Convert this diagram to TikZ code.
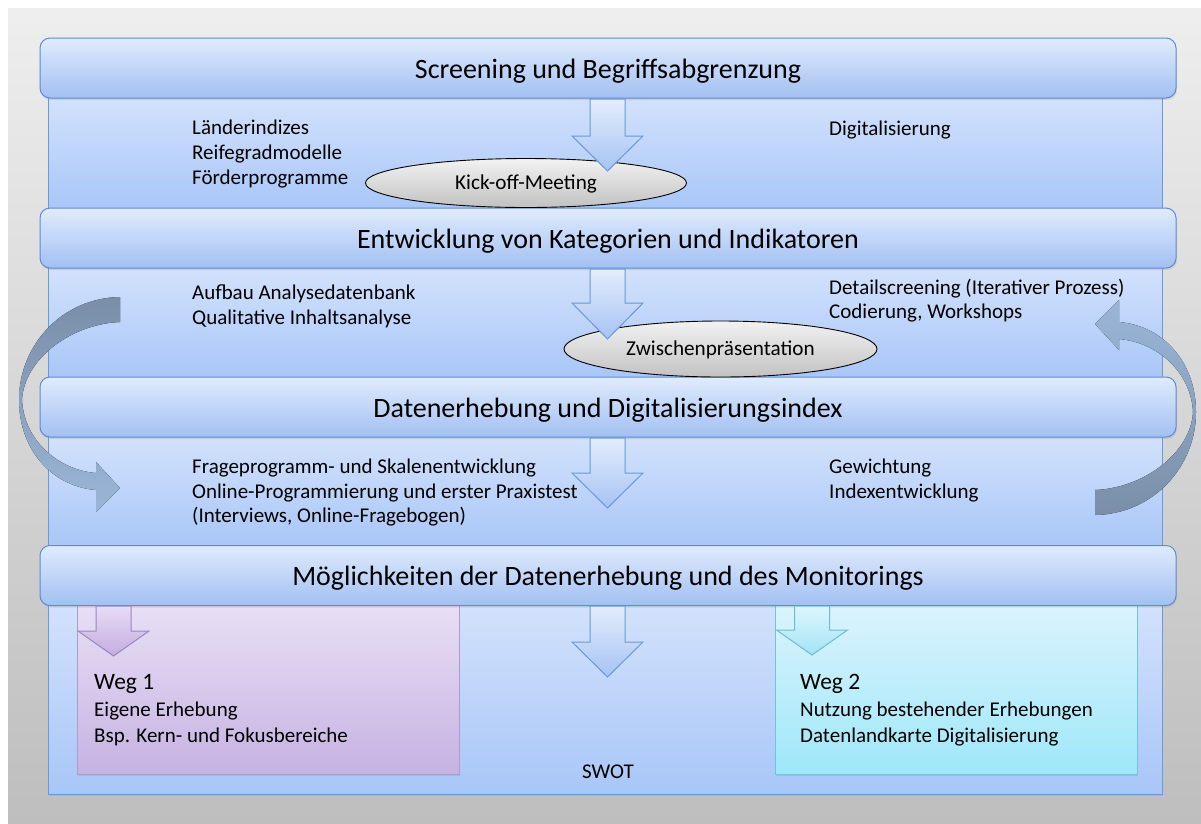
\documentclass[tikz,border=0pt]{standalone}
\usepackage{fontspec}
\setmainfont{Carlito}
\usetikzlibrary{shapes.geometric,shadows}
\definecolor{bgtop}{HTML}{EEEEEE}
\definecolor{bgbot}{HTML}{BEBEBE}
\definecolor{bartop}{HTML}{E0EBFD}
\definecolor{barbot}{HTML}{A2C0F2}
\definecolor{barline}{HTML}{5B8CD4}
\definecolor{paneltop}{HTML}{D3E2FC}
\definecolor{panelbot}{HTML}{A8C6F8}
\definecolor{panelline}{HTML}{6B9AD8}
\definecolor{arrtop}{HTML}{E3EDFC}
\definecolor{arrbot}{HTML}{A6C3F3}
\definecolor{arrline}{HTML}{6A99D5}
\definecolor{elltop}{HTML}{F2F2F2}
\definecolor{ellbot}{HTML}{C2C2C2}
\definecolor{cdark}{HTML}{7A8EA8}
\definecolor{clight}{HTML}{9AB6D8}
\definecolor{wAtop}{HTML}{E8E0F5}
\definecolor{wAbot}{HTML}{C6B2E2}
\definecolor{wAline}{HTML}{AD9CCB}
\definecolor{wAatop}{HTML}{E8DCF6}
\definecolor{wAabot}{HTML}{C4ACDF}
\definecolor{wAaline}{HTML}{9A86C2}
\definecolor{wBtop}{HTML}{DCF4FD}
\definecolor{wBbot}{HTML}{9EE7F9}
\definecolor{wBline}{HTML}{72C2DA}
\definecolor{wBatop}{HTML}{DEF6FD}
\definecolor{wBabot}{HTML}{A2E4F6}
\definecolor{wBaline}{HTML}{6CBCD4}
% #1 style, #2 centre x, #3 top y, #4 head y, #5 tip y
\newcommand\mydnarrow[5]{%
  \draw[#1] (#2-17.5,#3) -- (#2+17.5,#3) -- (#2+17.5,#4) -- (#2+35.5,#4)
    -- (#2,#5) -- (#2-35.5,#4) -- (#2-17.5,#4) -- cycle;}
\begin{document}
\begin{tikzpicture}[x=1pt,y=-1pt,
  shd/.style={drop shadow={opacity=0.2,shadow xshift=1pt,shadow yshift=-2pt}},
  bar/.style={shd,draw=barline,line width=1pt,rounded corners=10pt,
    top color=bartop,bottom color=barbot,minimum width=1136pt,minimum height=60pt,
    inner sep=0pt,text height=20pt,text depth=0pt,font=\fontsize{28}{32}\selectfont},
  panel/.style={shd,draw=panelline,line width=1pt,top color=paneltop,bottom color=panelbot},
  dnarr/.style={draw=arrline,line width=1pt,top color=arrtop,bottom color=arrbot,line join=miter},
  ell/.style={ellipse,draw=black,line width=0.9pt,top color=elltop,bottom color=ellbot,
    inner sep=0pt,text height=14pt,text depth=2pt,font=\fontsize{21.2}{25}\selectfont},
  txt/.style={anchor=base west,inner sep=0pt,font=\fontsize{21}{25}\selectfont},
  wegtitle/.style={anchor=base west,inner sep=0pt,font=\fontsize{23.5}{28}\selectfont},
]
\useasboundingbox (0,0) rectangle (1201,823);
\fill[top color=bgtop,bottom color=bgbot] (8,8) rectangle (1201,823);

% panels
\draw[panel] (48,96) rectangle (1162,210);
\draw[panel] (48,266) rectangle (1162,379);
\draw[panel] (48,435) rectangle (1162,548);
\draw[panel] (48,603) rectangle (1162,794);

% Weg boxes
\draw[shd,draw=wAline,line width=1pt,top color=wAtop,bottom color=wAbot] (77,603) rectangle (459,774);
\draw[shd,draw=wBline,line width=1pt,top color=wBtop,bottom color=wBbot] (775,603) rectangle (1137,774);

% bars
\node[bar] (b1) at (608,68) {Screening und Begriffsabgrenzung};
\node[bar] (b2) at (608,238) {Entwicklung von Kategorien und Indikatoren};
\node[bar] (b3) at (608,407) {Datenerhebung und Digitalisierungsindex};
\node[bar] (b4) at (608,575.5) {Möglichkeiten der Datenerhebung und des Monitorings};

% ellipses
\node[ell,minimum width=321pt,minimum height=49pt] (kick) at (526,183) {Kick-off-Meeting};
\node[ell,minimum width=313pt,minimum height=56pt] (zwi) at (720.5,349) {Zwischenpräsentation};

% down arrows
\mydnarrow{dnarr}{607.5}{99}{136}{171}
\mydnarrow{dnarr}{607.5}{269}{303}{339}
\mydnarrow{dnarr}{607.5}{438}{473}{508}
\mydnarrow{dnarr}{607.5}{606}{642}{677}
\mydnarrow{draw=wAaline,line width=1pt,top color=wAatop,bottom color=wAabot}{113.5}{606}{631}{656}
\mydnarrow{draw=wBaline,line width=1pt,top color=wBatop,bottom color=wBabot}{812}{606}{630}{655}

% texts panel 1
\node[txt] (t11) at (192,134) {Länderindizes};
\node[txt] (t12) at (192,159) {Reifegradmodelle};
\node[txt] (t13) at (192,184) {Förderprogramme};
\node[txt] (t14) at (829,135) {Digitalisierung};
% panel 2
\node[txt] (t21) at (192,299) {Aufbau Analysedatenbank};
\node[txt] (t22) at (192,324) {Qualitative Inhaltsanalyse};
\node[txt] (t23) at (829,294) {Detailscreening (Iterativer Prozess)};
\node[txt] (t24) at (829,318) {Codierung, Workshops};
% panel 3
\node[txt] (t31) at (192,473) {Frageprogramm- und Skalenentwicklung};
\node[txt] (t32) at (192,498) {Online-Programmierung und erster Praxistest};
\node[txt] (t33) at (192,522) {(Interviews, Online-Fragebogen)};
\node[txt] (t34) at (829,473) {Gewichtung};
\node[txt] (t35) at (829,498) {Indexentwicklung};
% panel 4
\node[wegtitle] (w1) at (94,689) {Weg 1};
\node[txt] (w11) at (94,716) {Eigene Erhebung};
\node[txt] (w12) at (94,742) {Bsp. Kern- und Fokusbereiche};
\node[wegtitle] (w2) at (800,689) {Weg 2};
\node[txt] (w21) at (800,716) {Nutzung bestehender Erhebungen};
\node[txt] (w22) at (800,742) {Datenlandkarte Digitalisierung};
\node[txt,anchor=base] (swot) at (608,778) {SWOT};

% curved arrows
\fill[top color=cdark,bottom color=clight]
  (120,297) -- (120,322) .. controls (70,324) and (24,360) .. (22,400)
  .. controls (24,440) and (58,470) .. (96,473) -- (96,462) -- (120,488) -- (96,512)
  -- (96,490) .. controls (50,486) and (19,448) .. (19,400)
  .. controls (19,345) and (62,298) .. (120,297) -- cycle;
\fill[top color=clight,bottom color=cdark]
  (1095,515) -- (1095,490) .. controls (1145,488) and (1191,452) .. (1193,412)
  .. controls (1191,372) and (1157,342) .. (1119,339) -- (1119,350) -- (1095,324) -- (1119,300)
  -- (1119,322) .. controls (1165,326) and (1196,364) .. (1196,412)
  .. controls (1196,467) and (1153,514) .. (1095,515) -- cycle;
\end{tikzpicture}
\end{document}
